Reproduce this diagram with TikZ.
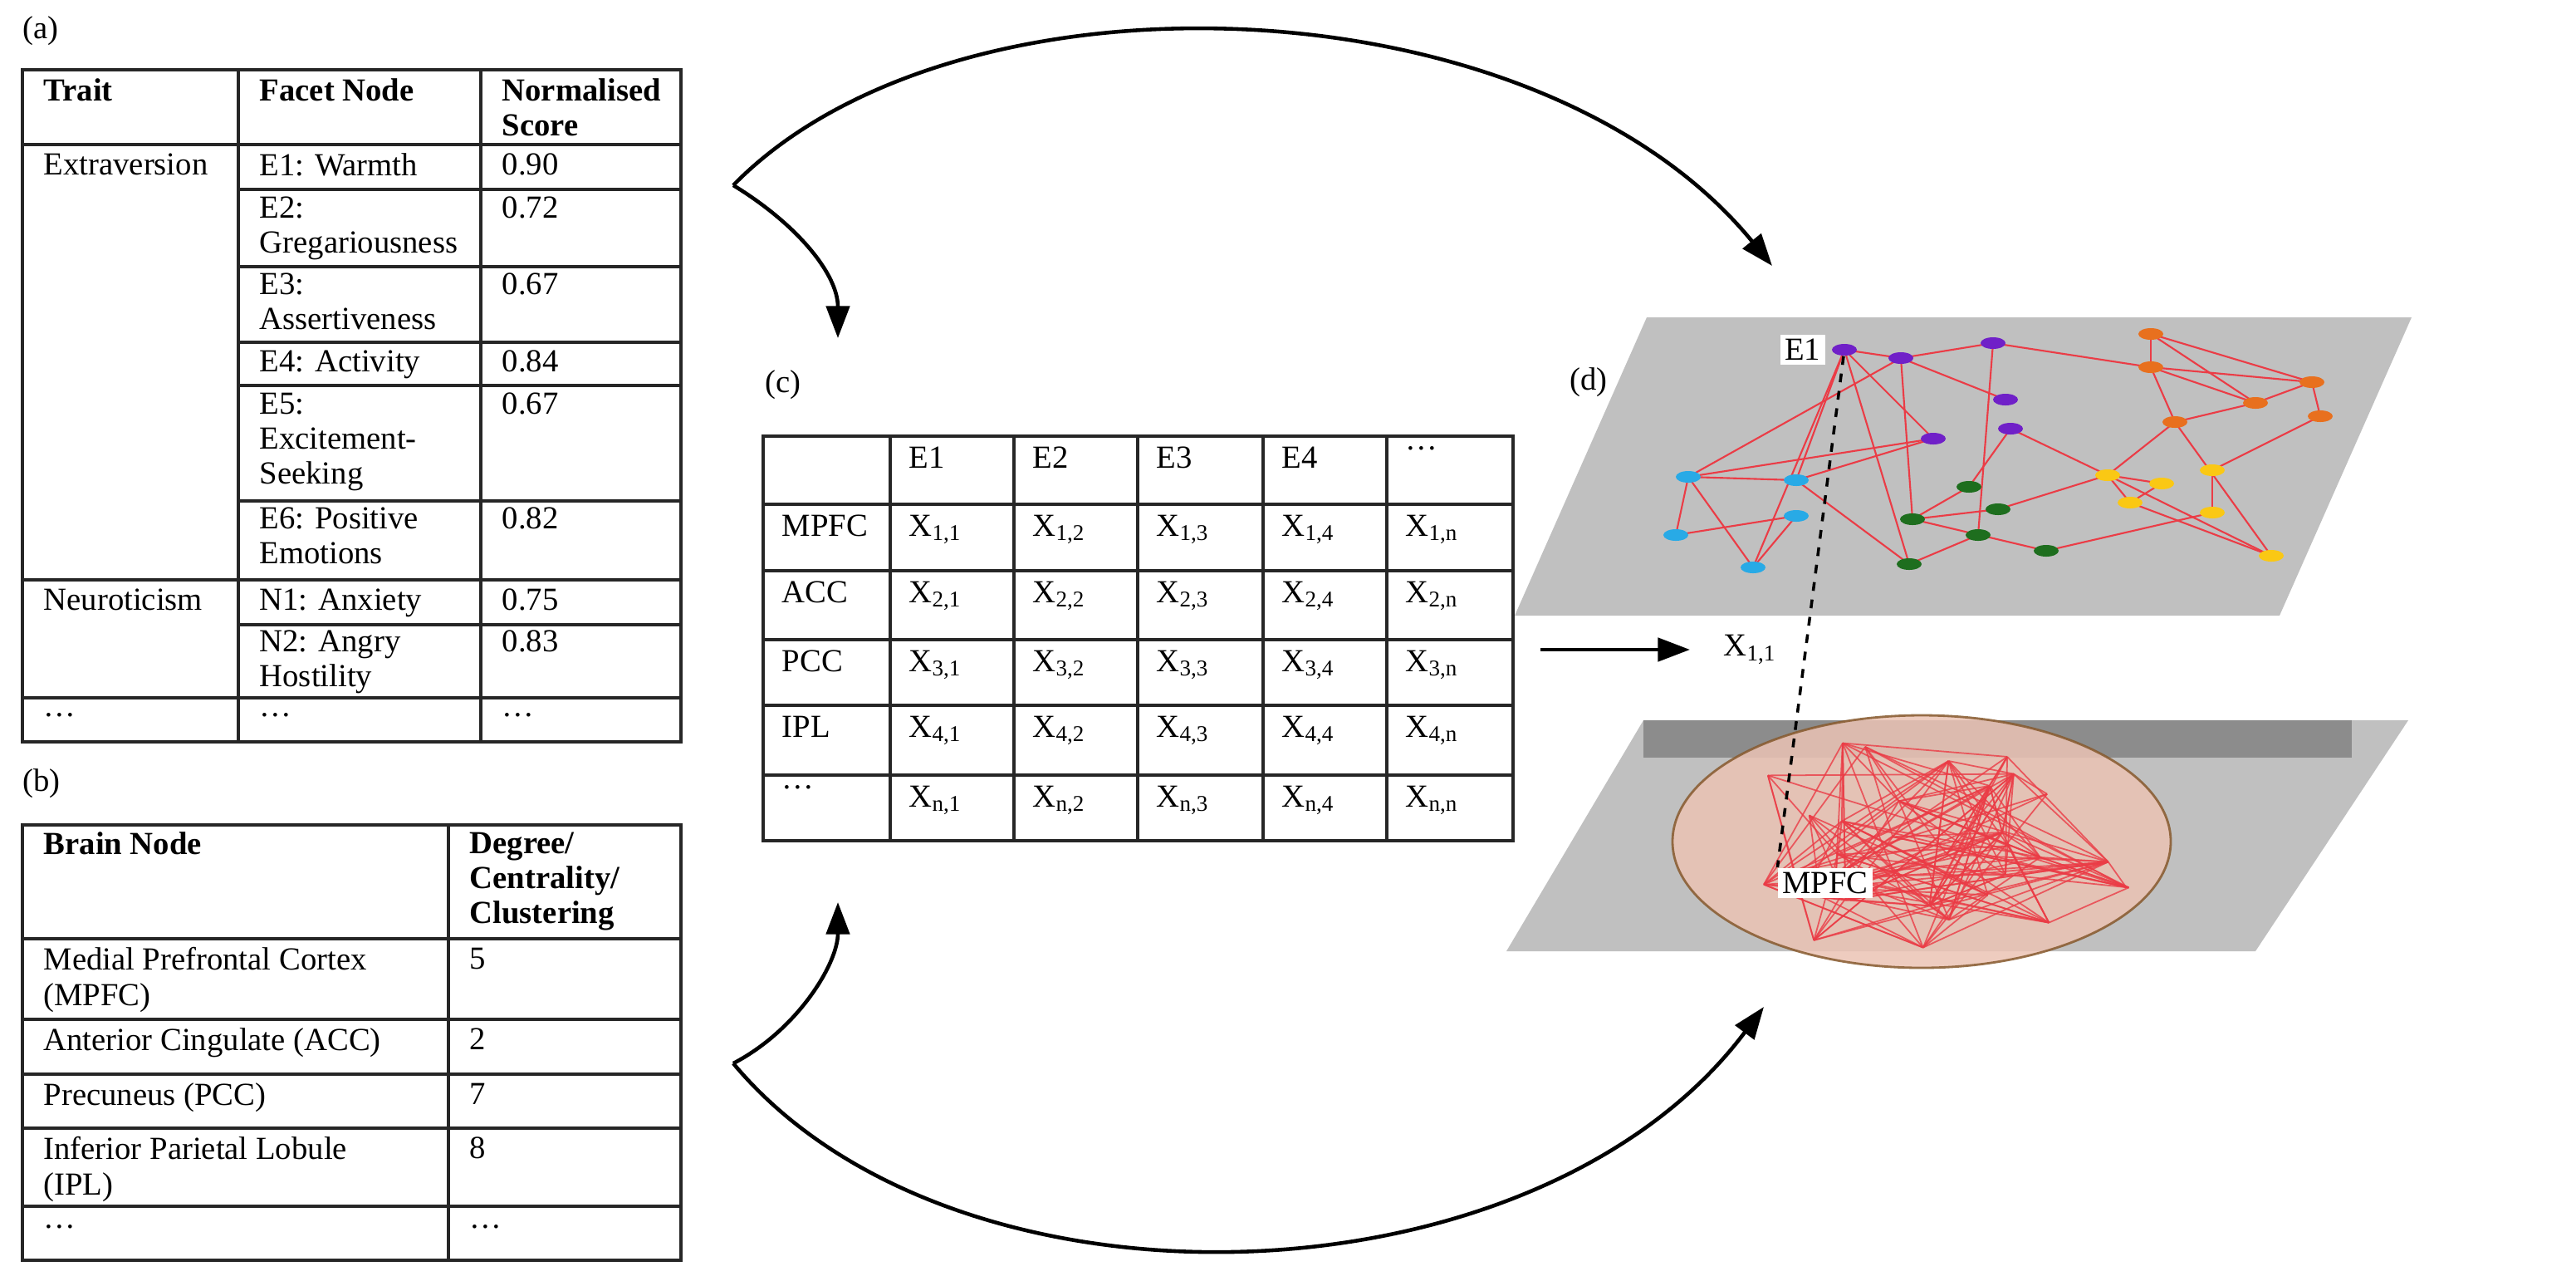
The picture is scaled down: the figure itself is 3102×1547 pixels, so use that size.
\documentclass[tikz,border=0pt]{standalone}
\usepackage{fontspec}
\setmainfont{Liberation Serif}
\usetikzlibrary{arrows.meta,positioning,shapes.geometric}
\definecolor{planegray}{RGB}{192,192,192}
\definecolor{banddark}{RGB}{140,140,140}
\definecolor{fpurple}{RGB}{112,32,200}
\definecolor{forange}{RGB}{232,112,30}
\definecolor{fblue}{RGB}{40,170,230}
\definecolor{fgreen}{RGB}{30,110,30}
\definecolor{fyellow}{RGB}{250,200,20}
\definecolor{edgered}{RGB}{235,60,70}
\definecolor{brainskin}{RGB}{235,195,180}
\tikzset{
	% table cells and labels
	cell/.style={anchor=north west,inner sep=0,align=left,font=\fontsize{11}{12}\selectfont},
	head/.style={cell,font=\fontsize{11}{12}\selectfont\bfseries},
	grid/.style={line width=1pt,draw=black!85},
	flow/.style={line width=1.3pt,-{Triangle[length=11pt,width=8pt]}},
	% facet network
	facet/.style={ellipse,inner sep=0,minimum width=0.3cm,minimum height=0.14cm,fill=#1},
	link/.style={draw=edgered,line width=0.6pt},
	tag/.style={fill=white,inner sep=1.5pt,font=\fontsize{11}{12}\selectfont}
}

\begin{document}
\begin{tikzpicture}[x=0.01cm,y=-0.01cm]
\useasboundingbox (0,0) rectangle (3102,1547);

% panel labels
\node[cell,anchor=west] (la) at (27,37) {(a)};
\node[cell,anchor=west] (lb) at (27,943) {(b)};
\node[cell,anchor=west] (lc) at (921,463) {(c)};
\node[cell,anchor=west] (ld) at (1890,460) {(d)};

% (a) facet table
\draw[grid] (27,84) rectangle (820,893);
\draw[grid] (287,84) -- (287,893) (579,84) -- (579,893);
\foreach \y in {174,698,840} \draw[grid] (27,\y) -- (820,\y);
\foreach \y in {228,321,412,464,603,752} \draw[grid] (287,\y) -- (820,\y);
\node[head] (ta) at (52,94) {Trait};
\node[head] (fa) at (312,94) {Facet Node};
\node[head] (sa) at (604,94) {Normalised\\Score};
\node[cell] (ext) at (52,184) {Extraversion};
\node[cell] (neu) at (52,708) {Neuroticism};
\node[cell] (dta) at (52,858) {\dots};
\node[cell] (e1) at (312,184) {E1: Warmth};
\node[cell] (e2) at (312,236) {E2:\\Gregariousness};
\node[cell] (e3) at (312,328) {E3:\\Assertiveness};
\node[cell] (e4) at (312,421) {E4: Activity};
\node[cell] (e5) at (312,472) {E5:\\Excitement-\\Seeking};
\node[cell] (e6) at (312,610) {E6: Positive\\Emotions};
\node[cell] (n1) at (312,708) {N1: Anxiety};
\node[cell] (n2) at (312,758) {N2: Angry\\Hostility};
\node[cell] (dfa) at (312,858) {\dots};
\node[cell] (s1) at (604,184) {0.90};
\node[cell] (s2) at (604,236) {0.72};
\node[cell] (s3) at (604,328) {0.67};
\node[cell] (s4) at (604,421) {0.84};
\node[cell] (s5) at (604,472) {0.67};
\node[cell] (s6) at (604,610) {0.82};
\node[cell] (s7) at (604,708) {0.75};
\node[cell] (s8) at (604,758) {0.83};
\node[cell] (s9) at (604,858) {\dots};

% (b) brain node table
\draw[grid] (27,993) rectangle (820,1517);
\draw[grid] (540,993) -- (540,1517);
\foreach \y in {1130,1227,1293,1358,1452} \draw[grid] (27,\y) -- (820,\y);
\node[head] (bn) at (52,1001) {Brain Node};
\node[head] (dg) at (565,1001) {Degree/\\Centrality/\\Clustering};
\node[cell] (r1) at (52,1140) {Medial Prefrontal Cortex\\(MPFC)};
\node[cell] (r2) at (52,1237) {Anterior Cingulate (ACC)};
\node[cell] (r3) at (52,1303) {Precuneus (PCC)};
\node[cell] (r4) at (52,1368) {Inferior Parietal Lobule\\(IPL)};
\node[cell] (r5) at (52,1474) {\dots};
\node[cell] (v1) at (565,1140) {5};
\node[cell] (v2) at (565,1237) {2};
\node[cell] (v3) at (565,1303) {7};
\node[cell] (v4) at (565,1368) {8};
\node[cell] (v5) at (565,1474) {\dots};

% (c) matrix
\draw[grid] (919,525) rectangle (1822,1012);
\foreach \x in {1072,1221,1370,1521,1670} \draw[grid] (\x,525) -- (\x,1012);
\foreach \y in {607,687,770,849,933} \draw[grid] (919,\y) -- (1822,\y);
\foreach \c/\x in {E1/1072,E2/1221,E3/1370,E4/1521,\dots/1670}
	\node[cell] at (\x+22,537) {\c};
\foreach \r/\i/\y in {MPFC/1/607,ACC/2/687,PCC/3/770,IPL/4/849,\dots/n/933}{
	\node[cell] at (941,\y+12) {\r};
	\foreach \j/\x in {1/1072,2/1221,3/1370,4/1521,n/1670}
		\node[cell] at (\x+22,\y+12) {X\textsubscript{\i,\j}};
}

% flow arrows
\coordinate (srcA) at (883,223);
\coordinate (srcB) at (883,1280);
\coordinate (toC1) at (1009,407);
\coordinate (toC2) at (1009,1086);
\coordinate (toD1) at (2134,320);
\coordinate (toD2) at (2124,1212);
\coordinate (outC) at (1855,782);
\coordinate (inD) at (2035,782);
\draw[flow] (srcA) .. controls (1150,-50) and (1850,-27) .. (toD1);
\draw[flow] (srcA) .. controls (960,270) and (1009,330) .. (toC1);
\draw[flow] (srcB) .. controls (1150,1600) and (1850,1577) .. (toD2);
\draw[flow] (srcB) .. controls (960,1240) and (1009,1160) .. (toC2);
\draw[flow] (outC) -- (inD);

% (d) brain layer
\fill[planegray] (1979,867) -- (2900,867) -- (2716,1145) -- (1814,1145) -- cycle;
\fill[banddark] (1979,867) rectangle (2832,912);
\fill[brainskin,opacity=0.85,draw=brown!70!black,line width=0.8pt]
	(2314,1013) ellipse [x radius=300, y radius=152];
\pgfmathsetseed{42}
\foreach \k in {1,...,34}{
	\pgfmathsetmacro\ang{360*rnd}
	\pgfmathsetmacro\rad{0.95*sqrt(rnd)}
	\coordinate (h\k) at ({2314+290*\rad*cos(\ang)},{1013+142*\rad*sin(\ang)});
}
\foreach \k in {1,...,170}{
	\pgfmathrandominteger{\ha}{1}{34}
	\pgfmathrandominteger{\hb}{1}{34}
	\draw[edgered,line width=0.5pt,opacity=0.8] (h\ha) -- (h\hb);
}

% (d) facet layer
\fill[planegray] (1983,382) -- (2904,382) -- (2745,741) -- (1824,741) -- cycle;
\foreach \n/\x/\y in {p1/2221/421,p2/2289/431,p3/2400/413,p4/2415/481,p5/2421/516,p6/2328/528}
	\coordinate (\n) at (\x,\y);
\foreach \n/\x/\y in {o1/2590/402,o2/2590/442,o3/2716/485,o4/2784/460,o5/2794/501,o6/2619/508}
	\coordinate (\n) at (\x,\y);
\foreach \n/\x/\y in {b1/2033/574,b2/2163/578,b3/2163/621,b4/2018/644,b5/2111/683}
	\coordinate (\n) at (\x,\y);
\foreach \n/\x/\y in {g1/2371/586,g2/2406/613,g3/2303/625,g4/2382/644,g5/2464/663,g6/2299/679}
	\coordinate (\n) at (\x,\y);
\foreach \n/\x/\y in {y1/2538/572,y2/2603/582,y3/2664/566,y4/2565/605,y5/2664/617,y6/2735/669}
	\coordinate (\n) at (\x,\y);
\foreach \a/\b in {p1/p2,p2/p3,p3/o2,o1/o2,o1/o3,o1/o4,o2/o3,o2/o4,o4/o3,o3/o6,o2/o6,o4/o5,
	o5/y3,o6/y1,o6/y6,p2/p4,p1/p6,p1/b2,p1/g6,p1/b5,p2/b1,p2/g3,p6/b1,p6/b2,b1/b2,b1/b4,b1/b5,
	b4/b3,b3/b5,p3/g4,p5/g1,p5/y1,g1/g3,g2/g3,g3/g5,g4/g6,y1/y2,y1/y4,y1/y6,y2/y4,y3/y5,y5/g5,
	y4/y6,g2/y1,b2/g6}
	\draw[link] (\a) -- (\b);
\foreach \n in {p1,p2,p3,p4,p5,p6} \node[facet=fpurple] (f\n) at (\n) {};
\foreach \n in {o1,o2,o3,o4,o5,o6} \node[facet=forange] (f\n) at (\n) {};
\foreach \n in {b1,b2,b3,b4,b5} \node[facet=fblue] (f\n) at (\n) {};
\foreach \n in {g1,g2,g3,g4,g5,g6} \node[facet=fgreen] (f\n) at (\n) {};
\foreach \n in {y1,y2,y3,y4,y5,y6} \node[facet=fyellow] (f\n) at (\n) {};
\node[tag, left=2pt of fp1] (e1tag) {E1};

% cross-layer link
\node[tag] (mpfc) at (2198,1063) {MPFC};
\node[cell,anchor=west] (x11) at (2075,782) {X\textsubscript{1,1}};
\draw[dashed,line width=1pt] (fp1) -- (mpfc.north west);
\end{tikzpicture}
\end{document}
